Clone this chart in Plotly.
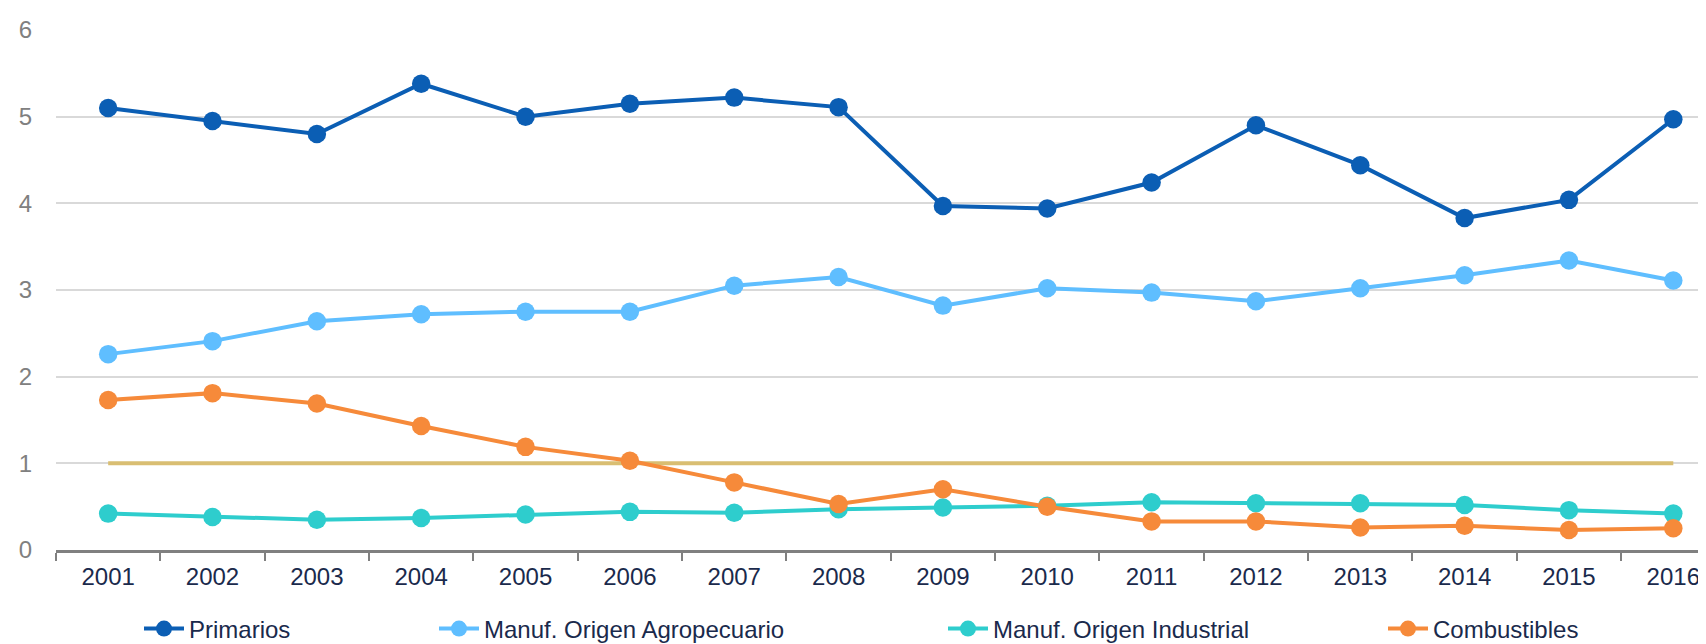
import plotly.graph_objects as go

years = [str(y) for y in range(2001, 2017)]
primarios = [5.10, 4.95, 4.80, 5.38, 5.00, 5.15, 5.22, 5.11, 3.97, 3.94, 4.24, 4.90, 4.44, 3.83, 4.04, 4.97]
moa = [2.26, 2.41, 2.64, 2.72, 2.75, 2.75, 3.05, 3.15, 2.82, 3.02, 2.97, 2.87, 3.02, 3.17, 3.34, 3.11]
moi = [0.42, 0.38, 0.35, 0.37, 0.41, 0.44, 0.43, 0.47, 0.49, 0.51, 0.55, 0.54, 0.54, 0.52, 0.46, 0.42]
combustibles = [1.73, 1.81, 1.69, 1.43, 1.19, 1.03, 0.78, 0.53, 0.70, 0.50, 0.33, 0.33, 0.26, 0.28, 0.23, 0.25]
referencia = [1.0] * len(years)

names = ["Primarios", "Manuf. Origen Agropecuario", "Manuf. Origen Industrial", "Combustibles"]
colors = ["#0B5EB4", "#5FBEFF", "#2ECDCD", "#F68A3A"]
series = [primarios, moa, moi, combustibles]
legend_centers = [157, 452, 961, 1401]

W, H = 1706, 644
FONT = "Liberation Sans, Arial, sans-serif"
NAVY = "#1A2A4C"

fig = go.Figure()
fig.add_trace(go.Scatter(x=years, y=referencia, mode="lines",
                         line=dict(color="#D9BE72", width=4), showlegend=False,
                         hoverinfo="skip"))

legend_ids = ["legend", "legend2", "legend3", "legend4"]
for name, col, ys, lid in zip(names, colors, series, legend_ids):
    fig.add_trace(go.Scatter(x=years, y=ys, name=name, mode="lines+markers",
                             line=dict(color=col, width=4),
                             marker=dict(color=col, size=18.5),
                             legend=lid))

layout_legends = {}
for lid, cx in zip(legend_ids, legend_centers):
    layout_legends[lid] = dict(
        x=(cx - 26) / W, xref="container", xanchor="left",
        y=23 / H, yref="container", yanchor="middle",
        orientation="h", font=dict(family=FONT, size=24, color=NAVY),
        bgcolor="rgba(0,0,0,0)", itemsizing="trace", itemwidth=40,
    )

fig.update_layout(
    width=W, height=H,
    margin=dict(l=48, r=0, t=22, b=102, autoexpand=False),
    paper_bgcolor="white", plot_bgcolor="white",
    font=dict(family=FONT),
    **layout_legends,
)
fig.update_xaxes(type="category", tickson="boundaries", ticks="outside",
                 ticklen=8, tickcolor="#808080", tickwidth=2,
                 showline=True, linecolor="#808080", linewidth=2.5,
                 showgrid=False, tickfont=dict(family=FONT, size=24, color=NAVY),
                 ticklabelstandoff=3,
                 range=[-0.5, 15.39])
fig.update_yaxes(range=[0, 6], dtick=1, showgrid=True, gridcolor="#D9D9D9",
                 gridwidth=2, zeroline=False, showline=False, ticks="",
                 tickfont=dict(family=FONT, size=24, color="#808080"),
                 ticklabelstandoff=23)

fig.write_html("out.html")
